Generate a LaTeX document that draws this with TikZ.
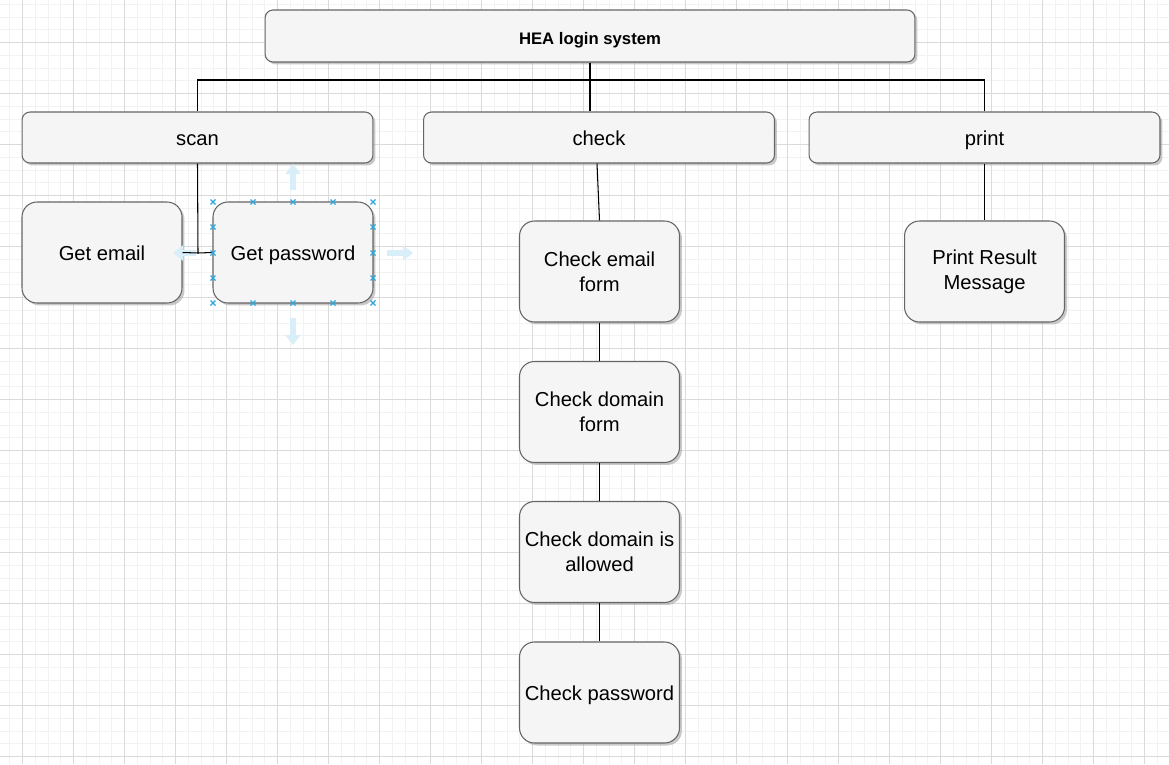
\documentclass[tikz,border=0pt]{standalone}
\usepackage{fontspec}
\setmainfont{Liberation Sans}
\usetikzlibrary{arrows.meta,shadows}
\definecolor{boxfill}{HTML}{F5F5F5}
\definecolor{boxline}{HTML}{666666}
\definecolor{gridminor}{HTML}{F2F2F2}
\definecolor{gridmajor}{HTML}{DADADA}
\definecolor{handle}{HTML}{29A8E0}
\definecolor{hint}{HTML}{D8EFFA}
\tikzset{
  box/.style={draw=boxline, fill=boxfill, line width=0.6pt, rounded corners=0.16cm,
    drop shadow={shadow xshift=0.05cm, shadow yshift=-0.05cm, fill=black!35, opacity=0.6},
    font=\fontsize{11.5}{14.2}\selectfont, align=center, inner sep=0pt},
  oneline/.style={text height=0.92em, text depth=0pt},
  rootbox/.style={box, minimum width=13cm, minimum height=1.04cm,
    font=\fontsize{9.5}{12}\selectfont\bfseries, text height=0.96em, text depth=0pt},
  wide/.style={box, oneline, minimum width=7.02cm, minimum height=1.02cm},
  task/.style={box, rounded corners=0.3cm, minimum width=3.2cm, minimum height=2.02cm},
  link/.style={draw=black, line width=0.6pt},
  hintarrow/.style={draw=hint, line width=0.12cm, -{Triangle[width=0.3cm,length=0.2cm]}},
  handlemark/.style={draw=handle, line width=0.7pt}
}
\begin{document}
\begin{tikzpicture}[x=0.02cm, y=-0.02cm]
\useasboundingbox (0,0) rectangle (1169,764);
\fill[white] (0,0) rectangle (1169,764);
% grid
\foreach \i in {-1,...,90}
  \draw[gridminor, line width=0.5pt] ({22.5+12.75*\i},0) -- ++(0,764);
\foreach \i in {-3,...,56}
  \draw[gridminor, line width=0.5pt] (0,{42.5+12.75*\i}) -- ++(1169,0);
\foreach \i in {0,...,22}
  \draw[gridmajor, line width=0.5pt] ({22.5+51*\i},0) -- ++(0,764);
\foreach \i in {-1,...,14}
  \draw[gridmajor, line width=0.5pt] (0,{42.5+51*\i}) -- ++(1169,0);

\node[rootbox] (hea) at (590,36) {HEA login system};
\node[wide] (scan) at (197.5,137.5) {scan};
\node[wide] (check) at (599,137.5) {check};
\node[wide] (print) at (984.5,137.5) {print};
\node[task, oneline] (gemail) at (102,252.5) {Get email};
\node[task, oneline] (gpass) at (293,252.5) {Get password};
\node[task] (cemail) at (599.5,271.5) {Check email\\form};
\node[task] (cdomain) at (599.5,412) {Check domain\\form};
\node[task] (callow) at (599.5,552) {Check domain is\\allowed};
\node[task, oneline] (cpass) at (599.5,692.5) {Check password};
\node[task] (presult) at (984.5,271.5) {Print Result\\Message};

\draw[hintarrow] (293,190) -- (293,164);
\draw[hintarrow] (387,253) -- (413,253);
\draw[hintarrow] (293,318) -- (293,345);
\draw[hintarrow] (196,253) -- (173,253);

\coordinate (bus) at (590,80);
\coordinate (sj) at (198,253);
\draw[link] (hea.south) -- (bus) -| (scan.north);
\draw[link] (hea.south) -- (bus) -| (print.north);
\draw[link] (hea.south) -- (hea.south |- check.north);
\draw[link] (scan.south) -- (sj) -- (gemail.east);
\draw[link] (sj) -- (gpass.west);
\draw[link] ([xshift=-0.04cm]check.south) -- (cemail.north);
\draw[link] (cemail) -- (cdomain);
\draw[link] (cdomain) -- (callow);
\draw[link] (callow) -- (cpass);
\draw[link] (print) -- (presult);

\foreach \hx in {213,253,293,333,373}
  \foreach \hy in {202,303}
    \draw[handlemark] (\hx,\hy) +(-2.5,-2.5) -- +(2.5,2.5) +(-2.5,2.5) -- +(2.5,-2.5);
\foreach \hx in {213,373}
  \foreach \hy in {227,253,278}
    \draw[handlemark] (\hx,\hy) +(-2.5,-2.5) -- +(2.5,2.5) +(-2.5,2.5) -- +(2.5,-2.5);
\end{tikzpicture}
\end{document}
